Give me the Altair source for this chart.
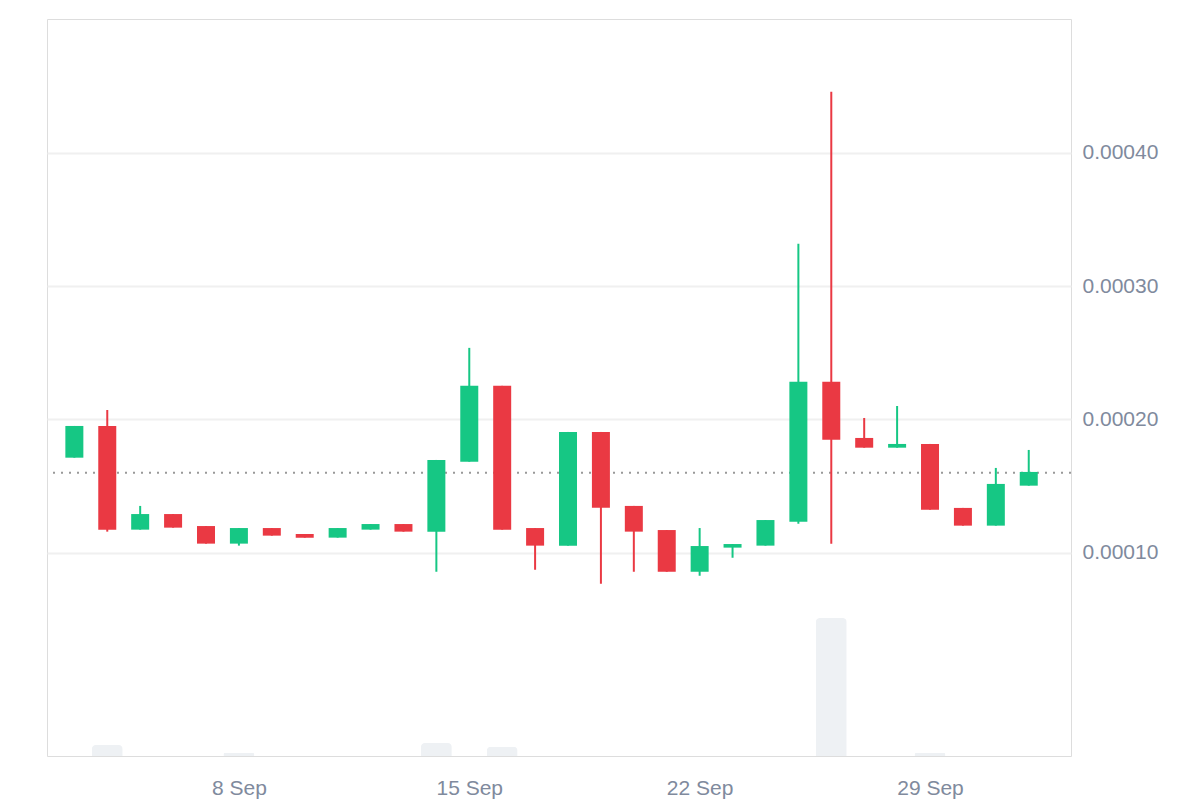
import altair as alt
import pandas as pd

# ---- data ----
dates = ["2023-09-03", "2023-09-04", "2023-09-05", "2023-09-06", "2023-09-07",
         "2023-09-08", "2023-09-09", "2023-09-10", "2023-09-11", "2023-09-12",
         "2023-09-13", "2023-09-14", "2023-09-15", "2023-09-16", "2023-09-17",
         "2023-09-18", "2023-09-19", "2023-09-20", "2023-09-21", "2023-09-22",
         "2023-09-23", "2023-09-24", "2023-09-25", "2023-09-26", "2023-09-27",
         "2023-09-28", "2023-09-29", "2023-09-30", "2023-10-01", "2023-10-02"]

opens = [0.0001713, 0.0001951, 0.0001173, 0.0001290, 0.0001200,
         0.0001068, 0.0001185, 0.0001140, 0.0001113, 0.0001173,
         0.0001215, 0.0001158, 0.0001683, 0.0002252, 0.0001185,
         0.0001053, 0.0001906, 0.0001351, 0.0001170, 0.0000857,
         0.0001038, 0.0001053, 0.0001233, 0.0002282, 0.0001861,
         0.0001788, 0.0001816, 0.0001336, 0.0001203, 0.0001503]

closes = [0.0001951, 0.0001173, 0.0001290, 0.0001188, 0.0001068,
          0.0001185, 0.0001128, 0.0001113, 0.0001185, 0.0001215,
          0.0001158, 0.0001696, 0.0002252, 0.0001173, 0.0001053,
          0.0001906, 0.0001338, 0.0001158, 0.0000857, 0.0001050,
          0.0001065, 0.0001245, 0.0002282, 0.0001848, 0.0001788,
          0.0001816, 0.0001323, 0.0001203, 0.0001516, 0.0001606]

highs = [0.0001951, 0.0002071, 0.0001351, 0.0001290, 0.0001200,
         0.0001185, 0.0001185, 0.0001140, 0.0001185, 0.0001215,
         0.0001215, 0.0001696, 0.0002537, 0.0002252, 0.0001185,
         0.0001906, 0.0001906, 0.0001351, 0.0001170, 0.0001185,
         0.0001065, 0.0001245, 0.0003318, 0.0004459, 0.0002011,
         0.0002101, 0.0001816, 0.0001336, 0.0001636, 0.0001771]

lows = [0.0001713, 0.0001158, 0.0001173, 0.0001188, 0.0001068,
        0.0001053, 0.0001128, 0.0001113, 0.0001113, 0.0001173,
        0.0001158, 0.0000857, 0.0001683, 0.0001173, 0.0000872,
        0.0001053, 0.0000767, 0.0000857, 0.0000857, 0.0000827,
        0.0000962, 0.0001053, 0.0001218, 0.0001068, 0.0001788,
        0.0001788, 0.0001323, 0.0001203, 0.0001203, 0.0001503]

volumes = [0, 790, 0, 0, 0,
           215, 0, 0, 0, 0,
           0, 935, 0, 670, 0,
           0, 0, 0, 0, 0,
           0, 0, 0, 10000, 0,
           0, 215, 0, 0, 0]

reference_price = [0.00016]
price_ticks = [0.0001, 0.0002, 0.0003, 0.0004]
date_ticks = [(2023, 9, 8), (2023, 9, 15), (2023, 9, 22), (2023, 9, 29)]

df = pd.DataFrame({"date": dates, "open": opens, "close": closes,
                   "high": highs, "low": lows, "volume": volumes})
ref_df = pd.DataFrame({"price": reference_price})

GREEN = "#16c784"
RED = "#ea3943"
TEXT = "#808a9d"
FONT = "Liberation Sans"

x_enc = alt.X(
    "date:T",
    scale=alt.Scale(
        type="utc", padding=0,
        domain=[alt.DateTime(year=2023, month=9, date=2, hours=4, minutes=3, utc=True),
                alt.DateTime(year=2023, month=10, date=3, hours=6, minutes=49, utc=True)],
    ),
    axis=alt.Axis(
        values=[alt.DateTime(year=y, month=m, date=d, utc=True) for (y, m, d) in date_ticks],
        format="%-d %b", title=None, grid=False, ticks=False, domain=False,
        labelPadding=21, labelFontSize=21, labelColor=TEXT, labelFont=FONT,
    ),
)

price_scale = alt.Scale(domain=[-0.00005255, 0.00050047], nice=False, zero=False, padding=0)
price_axis = alt.Axis(
    orient="right", values=price_ticks, format=".5f", title=None,
    grid=True, gridColor="#f0f0f0", gridWidth=2, ticks=False, tickSize=0,
    domain=False, labelPadding=11, labelFontSize=21, labelColor=TEXT,
    labelFont=FONT, labelAlign="left", labelBaseline="middle",
)

color_cond = alt.condition("datum.close >= datum.open", alt.value(GREEN), alt.value(RED))

volume = alt.Chart(df).mark_bar(
    size=31, color="#eef1f4", cornerRadiusTopLeft=4, cornerRadiusTopRight=4
).encode(
    x=x_enc,
    y=alt.Y("volume:Q", scale=alt.Scale(domain=[0, 53400], nice=False, padding=0), axis=None),
)

ref_line = alt.Chart(ref_df).mark_rule(
    color="#999999", strokeWidth=2, strokeDash=[2, 6]
).encode(
    y=alt.Y("price:Q", scale=price_scale, axis=price_axis),
)

wicks = alt.Chart(df).mark_rule(strokeWidth=2).encode(
    x=x_enc,
    y=alt.Y("low:Q", scale=price_scale, axis=price_axis),
    y2="high:Q",
    color=color_cond,
)

bodies = alt.Chart(df).mark_bar(size=18).encode(
    x=x_enc,
    y=alt.Y("open:Q", scale=price_scale, axis=price_axis),
    y2="close:Q",
    color=color_cond,
)

price = alt.layer(ref_line, wicks, bodies)

chart = alt.layer(volume, price).resolve_scale(y="independent").properties(
    width=1024, height=737,
    autosize=alt.AutoSizeParams(type="none"),
    padding={"left": 47, "top": 19, "right": 129, "bottom": 44},
).configure_view(stroke="#ececec", strokeWidth=2).configure(background="white")

chart.save("out.html", embed_options={"renderer": "svg", "actions": False})
